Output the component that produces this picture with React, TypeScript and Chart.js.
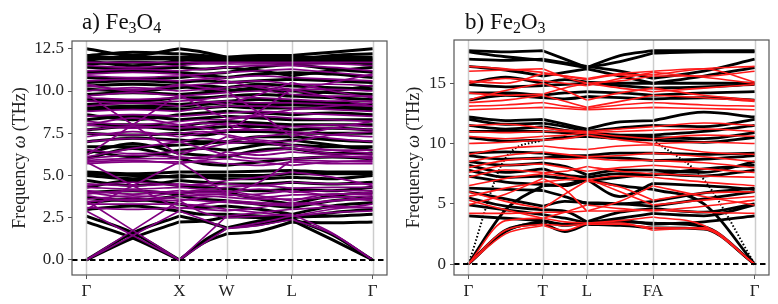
import React, { useEffect, useRef } from 'react';
import { Chart, registerables } from 'chart.js';

Chart.register(...registerables);

// ---------- Panel a) Fe3O4 ----------
const fe3o4SymLabels = ['Γ', 'X', 'W', 'L', 'Γ'];
const fe3o4SymPos = [0, 0.325, 0.49, 0.717, 1];
// k nodes: Γ, mid, X, mid, W, mid, L, mid, Γ
const fe3o4Nodes = [0, 0.1625, 0.325, 0.4075, 0.49, 0.6035, 0.717, 0.8585, 1];
const fe3o4YTicks = [0, 2.5, 5, 7.5, 10, 12.5];
const fe3o4YTickLabels = ['0.0', '2.5', '5.0', '7.5', '10.0', '12.5'];

const fe3o4Black = [
  [0, 1.3, 2.25, 2.3, 2.55, 2.5, 2.35, 1.2, 0],
  [2.25, 1.3, 0, 1.0, 1.55, 1.7, 2.25, 2.2, 2.25],
  [0, 1.6, 2.6, 2.3, 1.9, 2.1, 2.45, 1.5, 0],
  [2.6, 1.6, 0, 1.1, 1.9, 2.3, 2.55, 2.6, 2.7],
  [3.0, 3.2, 2.9, 2.7, 2.7, 2.6, 2.5, 2.8, 3.0],
  [3.4, 3.6, 3.3, 3.1, 3.2, 3.0, 2.7, 3.2, 3.4],
  [3.7, 3.5, 3.8, 3.6, 3.5, 3.3, 3.1, 3.5, 3.7],
  [4.0, 4.1, 3.9, 4.1, 4.0, 3.6, 3.3, 3.8, 4.0],
  [4.3, 4.7, 4.4, 4.3, 4.2, 4.1, 4.2, 4.1, 4.3],
  [4.7, 4.4, 4.7, 4.6, 4.5, 4.5, 4.6, 4.5, 4.6],
  [5.0, 4.8, 5.0, 4.9, 4.8, 4.8, 4.9, 4.8, 5.0],
  [5.1, 5.0, 4.9, 5.0, 5.0, 5.0, 5.1, 5.1, 5.1],
  [5.2, 5.1, 5.2, 5.2, 5.2, 5.25, 5.3, 5.2, 5.2],
  [6.0, 6.6, 6.0, 5.7, 5.6, 5.8, 6.0, 6.1, 6.0],
  [6.3, 6.9, 6.3, 6.2, 6.1, 6.5, 6.6, 6.3, 6.3],
  [6.5, 6.1, 6.5, 6.6, 6.5, 6.8, 7.1, 6.8, 6.5],
  [6.7, 6.7, 6.8, 6.9, 7.0, 6.9, 6.8, 6.7, 6.7],
  [7.0, 7.2, 7.1, 7.0, 7.0, 7.3, 7.3, 7.1, 7.0],
  [7.5, 7.4, 7.5, 7.4, 7.6, 7.6, 7.5, 7.5, 7.5],
  [7.7, 7.9, 7.7, 7.8, 7.9, 7.9, 7.7, 7.8, 7.7],
  [8.0, 8.0, 7.9, 8.1, 8.2, 8.1, 8.0, 8.0, 8.0],
  [8.3, 8.5, 8.3, 8.4, 8.5, 8.4, 8.3, 8.3, 8.3],
  [8.6, 8.3, 8.6, 8.7, 8.8, 8.7, 8.6, 8.7, 8.6],
  [8.9, 9.0, 8.9, 9.0, 9.1, 9.0, 9.0, 9.0, 8.9],
  [9.0, 9.1, 9.1, 9.2, 9.3, 9.2, 9.2, 9.1, 9.0],
  [9.2, 9.3, 9.2, 9.3, 9.4, 9.5, 9.4, 9.3, 9.2],
  [9.5, 9.4, 9.6, 9.6, 9.7, 9.8, 9.7, 9.6, 9.5],
  [9.8, 9.9, 9.8, 9.9, 10.0, 10.1, 10.0, 9.9, 9.8],
  [10.1, 10.0, 10.2, 10.3, 10.2, 10.4, 10.3, 10.2, 10.1],
  [10.3, 10.4, 10.3, 10.1, 10.0, 10.2, 9.7, 10.0, 10.3],
  [10.5, 10.6, 10.5, 10.6, 10.5, 10.6, 10.7, 10.6, 10.5],
  [10.8, 10.7, 10.8, 10.9, 10.8, 11.0, 11.1, 11.0, 10.8],
  [11.1, 11.2, 11.1, 11.0, 11.1, 11.4, 11.6, 11.3, 11.1],
  [11.4, 11.3, 11.4, 11.3, 11.4, 11.2, 10.9, 11.2, 11.4],
  [11.6, 11.7, 11.6, 11.7, 11.7, 11.8, 11.6, 11.7, 11.6],
  [11.8, 11.5, 11.8, 11.9, 11.9, 11.9, 11.9, 11.8, 11.8],
  [11.9, 11.9, 11.9, 11.8, 11.8, 11.7, 11.7, 11.9, 11.9],
  [12.0, 12.0, 12.0, 12.0, 12.0, 12.0, 12.0, 12.0, 12.0],
  [12.1, 12.3, 12.2, 12.1, 12.0, 11.9, 11.8, 12.1, 12.2],
  [12.5, 12.1, 12.5, 12.3, 12.0, 12.1, 12.1, 12.3, 12.5],
];

const fe3o4Purple = [
  [0, 1.45, 2.9, 2.4, 1.85, 2.05, 2.4, 1.55, 0],
  [2.9, 1.45, 0, 0.95, 1.85, 2.2, 2.6, 2.8, 2.9],
  [0, 1.75, 3.5, 2.8, 2.5, 2.6, 2.7, 1.6, 0],
  [3.5, 1.75, 0, 1.3, 2.6, 2.8, 3.0, 3.1, 3.1],
  [5.8, 4.4, 3.0, 3.3, 3.5, 3.4, 3.3, 3.5, 3.6],
  [3.0, 4.4, 5.8, 4.9, 3.9, 4.6, 5.9, 5.85, 5.8],
  [3.1, 3.0, 3.1, 3.0, 2.9, 3.1, 3.4, 3.2, 3.1],
  [3.3, 3.3, 3.3, 3.2, 3.0, 2.8, 2.6, 3.0, 3.3],
  [3.45, 3.6, 3.5, 3.7, 3.8, 3.9, 4.1, 3.8, 3.5],
  [3.6, 3.8, 3.6, 3.5, 3.4, 3.3, 3.2, 3.5, 3.7],
  [3.8, 3.5, 3.8, 3.8, 3.7, 3.6, 3.6, 3.7, 3.8],
  [3.9, 4.1, 3.95, 3.9, 3.9, 3.7, 3.85, 3.9, 4.0],
  [4.0, 3.7, 4.0, 4.1, 4.1, 3.8, 3.5, 3.9, 3.9],
  [4.1, 3.9, 4.1, 4.0, 4.0, 4.2, 4.0, 4.1, 4.1],
  [4.3, 4.2, 4.3, 4.2, 4.3, 4.4, 4.25, 4.3, 4.3],
  [4.4, 4.6, 4.4, 4.5, 4.7, 4.9, 5.2, 4.9, 4.4],
  [4.5, 4.4, 4.5, 4.4, 4.5, 4.4, 4.6, 4.5, 4.5],
  [5.7, 5.8, 5.8, 5.8, 5.7, 5.6, 5.8, 5.7, 5.7],
  [5.8, 5.9, 5.7, 5.9, 6.0, 5.8, 5.6, 5.8, 5.9],
  [5.9, 6.0, 6.0, 6.1, 6.2, 6.0, 6.0, 6.1, 6.1],
  [6.0, 6.2, 6.1, 6.0, 6.4, 6.2, 6.4, 6.2, 6.0],
  [6.1, 6.6, 7.0, 6.6, 6.2, 6.4, 6.6, 6.3, 6.2],
  [6.5, 6.3, 6.4, 6.6, 6.9, 7.0, 6.6, 6.5, 6.5],
  [9.8, 8.0, 6.2, 6.7, 7.3, 7.0, 6.8, 6.5, 6.3],
  [6.2, 8.0, 9.8, 9.0, 8.4, 8.6, 8.9, 9.1, 9.3],
  [7.0, 7.2, 7.0, 7.2, 7.0, 7.3, 7.5, 7.2, 7.0],
  [7.3, 7.6, 7.3, 7.5, 7.7, 7.7, 7.6, 7.4, 7.3],
  [7.5, 7.4, 7.5, 7.6, 7.4, 7.1, 7.0, 7.4, 7.6],
  [7.7, 7.9, 7.8, 7.9, 8.1, 8.0, 7.9, 7.8, 7.7],
  [8.0, 7.8, 8.0, 8.1, 8.0, 7.7, 7.9, 8.0, 7.9],
  [8.0, 8.4, 8.0, 7.8, 7.6, 8.8, 10.1, 9.6, 9.1],
  [10.4, 10.0, 10.4, 10.2, 10.0, 8.7, 7.3, 7.8, 8.2],
  [8.2, 8.0, 8.2, 8.3, 8.3, 8.5, 8.4, 8.3, 8.2],
  [8.5, 8.6, 8.5, 8.6, 8.7, 8.8, 8.7, 8.6, 8.5],
  [8.8, 8.9, 8.8, 9.0, 9.1, 9.1, 9.0, 8.9, 8.8],
  [9.1, 9.3, 9.1, 9.3, 9.4, 9.3, 9.3, 9.2, 9.1],
  [9.4, 9.3, 9.4, 9.5, 9.7, 9.6, 9.5, 9.4, 9.4],
  [9.6, 9.5, 9.6, 9.4, 9.2, 9.8, 10.5, 10.0, 9.6],
  [9.7, 9.9, 9.7, 9.8, 9.9, 10.0, 9.8, 9.7, 9.7],
  [10.0, 10.2, 10.0, 10.1, 10.2, 10.3, 10.1, 10.1, 10.0],
  [10.3, 10.1, 10.3, 10.4, 10.5, 10.6, 10.4, 10.4, 10.3],
  [10.6, 10.7, 10.6, 10.7, 10.8, 10.9, 10.8, 10.7, 10.6],
  [10.9, 10.8, 10.9, 11.0, 11.1, 11.2, 11.3, 11.1, 10.9],
  [11.0, 11.1, 11.0, 10.8, 10.6, 10.2, 10.0, 10.5, 11.0],
  [11.2, 11.3, 11.2, 11.3, 11.4, 11.5, 11.5, 11.4, 11.2],
  [11.5, 11.4, 11.5, 11.6, 11.6, 11.6, 11.6, 11.6, 11.5],
  [11.7, 11.7, 11.7, 11.7, 11.7, 11.7, 11.7, 11.7, 11.7],
];

// ---------- Panel b) Fe2O3 ----------
const fe2o3SymLabels = ['Γ', 'T', 'L', 'FA', 'Γ'];
const fe2o3SymPos = [0, 0.26, 0.414, 0.645, 1];
// k nodes: Γ, mid, T, mid, L, mid, FA, mid, Γ
const fe2o3Nodes = [0, 0.13, 0.26, 0.337, 0.414, 0.53, 0.645, 0.8225, 1];
const fe2o3YTicks = [0, 5, 10, 15];
const fe2o3YTickLabels = ['0', '5', '10', '15'];

const fe2o3Black = [
  [17.7, 17.6, 17.7, 17.0, 16.3, 17.3, 17.7, 17.7, 17.7],
  [17.6, 17.2, 16.9, 16.6, 16.3, 16.8, 17.5, 17.6, 17.6],
  [17.0, 16.9, 17.0, 16.7, 16.4, 16.0, 15.4, 16.0, 17.0],
  [16.4, 16.1, 15.6, 15.9, 16.2, 15.6, 15.0, 15.6, 16.3],
  [15.0, 15.5, 15.0, 15.3, 15.1, 15.0, 15.0, 15.0, 15.0],
  [14.9, 14.7, 14.8, 14.9, 15.0, 14.8, 14.6, 14.7, 14.9],
  [14.2, 14.2, 14.0, 14.2, 14.3, 14.2, 14.0, 14.2, 14.3],
  [13.6, 14.0, 13.8, 13.7, 13.9, 13.8, 13.7, 13.8, 13.6],
  [12.2, 11.9, 12.0, 11.6, 11.2, 11.8, 11.9, 12.6, 12.2],
  [12.0, 11.6, 11.7, 11.4, 11.0, 11.3, 11.5, 11.4, 12.0],
  [11.5, 11.2, 11.4, 11.1, 10.9, 10.7, 10.7, 11.0, 11.5],
  [11.0, 11.0, 11.0, 10.9, 10.7, 10.5, 10.5, 10.4, 10.9],
  [10.5, 10.2, 10.3, 10.5, 10.6, 10.4, 10.3, 10.1, 10.5],
  [9.2, 9.3, 9.2, 9.0, 9.0, 9.2, 9.2, 9.1, 9.2],
  [9.0, 8.7, 8.8, 8.9, 8.9, 8.8, 8.6, 8.7, 9.0],
  [8.5, 8.2, 8.4, 8.1, 7.4, 7.8, 7.8, 7.6, 8.5],
  [8.2, 7.6, 7.9, 7.4, 7.2, 7.5, 7.4, 7.9, 8.2],
  [7.8, 7.2, 7.3, 7.1, 6.9, 7.2, 7.5, 7.3, 7.8],
  [7.3, 6.8, 6.6, 6.5, 7.0, 5.6, 6.7, 6.5, 6.2],
  [6.3, 6.2, 6.1, 5.6, 5.0, 5.0, 5.2, 5.9, 6.3],
  [6.0, 5.4, 4.8, 5.2, 5.1, 5.0, 4.8, 5.4, 6.0],
  [5.5, 4.8, 4.5, 4.4, 3.5, 4.3, 4.6, 4.3, 5.0],
  [4.9, 4.5, 4.1, 3.8, 3.4, 3.8, 4.2, 4.0, 4.9],
  [4.0, 3.8, 3.6, 3.2, 3.5, 3.6, 3.3, 3.5, 4.0],
  [0, 2.7, 3.6, 3.3, 3.4, 3.5, 3.4, 3.1, 0],
  [0, 2.8, 3.4, 2.7, 3.3, 3.2, 3.0, 2.9, 0],
  [0, 4.5, 6.5, 6.6, 7.0, 6.5, 6.2, 5.0, 0],
];

const fe2o3BlackDotted = [
  [0, 8.8, 10.3, 10.5, 10.6, 10.4, 10.3, 7.0, 0],
];

const fe2o3Red = [
  [0, 2.8, 3.3, 3.2, 3.3, 3.3, 3.0, 2.9, 0],
  [0, 2.5, 3.2, 2.8, 3.4, 3.4, 2.8, 3.0, 0],
  [0, 3.6, 3.8, 3.5, 3.4, 3.6, 3.9, 3.2, 0],
  [4.2, 4.2, 4.3, 4.3, 4.4, 4.4, 4.5, 4.3, 4.2],
  [4.9, 5.8, 7.1, 6.2, 4.4, 5.2, 6.5, 5.6, 4.9],
  [5.3, 4.5, 3.8, 4.3, 4.9, 4.6, 4.4, 4.8, 5.3],
  [5.6, 6.3, 6.8, 7.0, 7.1, 6.0, 4.9, 5.3, 5.6],
  [6.0, 5.2, 4.6, 5.8, 6.9, 6.4, 5.3, 5.9, 6.0],
  [6.5, 7.1, 7.5, 7.3, 7.0, 7.3, 7.2, 6.8, 6.5],
  [7.2, 7.8, 7.6, 7.7, 8.1, 7.7, 7.5, 7.3, 7.2],
  [7.6, 8.2, 8.3, 8.0, 7.7, 8.0, 8.2, 7.9, 7.6],
  [8.0, 8.6, 8.8, 8.7, 8.8, 8.6, 8.6, 8.4, 8.0],
  [8.5, 9.0, 9.3, 9.1, 8.9, 9.0, 9.2, 8.9, 8.5],
  [9.1, 9.6, 9.8, 9.6, 9.5, 9.8, 9.9, 9.3, 9.1],
  [10.0, 10.1, 10.3, 10.4, 10.7, 10.3, 10.0, 10.1, 10.0],
  [10.6, 10.4, 10.6, 10.7, 10.9, 10.6, 10.4, 10.7, 10.6],
  [11.0, 10.9, 11.0, 11.0, 10.9, 11.0, 11.1, 11.2, 11.0],
  [11.5, 11.6, 11.3, 11.1, 11.0, 11.2, 11.4, 11.7, 11.5],
  [12.8, 12.9, 13.0, 12.9, 12.8, 12.9, 13.0, 12.9, 12.8],
  [13.1, 13.2, 13.4, 13.1, 12.9, 13.2, 13.4, 13.2, 13.1],
  [13.4, 13.6, 14.0, 13.5, 13.0, 13.5, 14.0, 13.8, 13.5],
  [13.6, 14.4, 15.0, 14.4, 13.6, 14.2, 14.6, 14.0, 13.6],
  [14.2, 14.0, 14.1, 14.6, 15.0, 14.6, 14.3, 14.6, 14.9],
  [15.0, 15.4, 15.2, 15.0, 14.8, 15.4, 15.9, 15.5, 15.0],
  [15.2, 15.0, 15.8, 15.6, 15.4, 15.8, 16.0, 16.2, 15.1],
  [16.0, 16.1, 16.2, 15.5, 15.0, 15.2, 15.6, 15.6, 16.0],
  [16.4, 16.2, 15.9, 15.6, 15.3, 15.7, 15.7, 16.2, 16.4],
];

const SERIF = '"Liberation Serif"';
const SYM_IDX = [2, 4, 6];

function bandPoints(nodes: number[], vals: number[]) {
  const pts: { x: number; y: number | null }[] = [];
  for (let i = 0; i < nodes.length; i++) {
    pts.push({ x: nodes[i], y: vals[i] });
    if (SYM_IDX.includes(i)) {
      pts.push({ x: nodes[i], y: null });
      pts.push({ x: nodes[i], y: vals[i] });
    }
  }
  return pts;
}

type PanelCfg = {
  width: number;
  padLeftAxis: number;
  padRight: number;
  padTop: number;
  yMin: number;
  yMax: number;
  yTicks: number[];
  yTickLabels: string[];
  symPos: number[];
  symLabels: string[];
  nodes: number[];
  bandSets: { bands: number[][]; color: string; width: number; order: number; dash?: number[] }[];
  titlePrefix: string;
  titleParts: [string, string][];
  titleX: number;
  ylabelX: number;
};

function Panel({ cfg }: { cfg: PanelCfg }) {
  const ref = useRef<HTMLCanvasElement | null>(null);
  useEffect(() => {
    if (!ref.current) return;
    const datasets: any[] = [];
    cfg.bandSets.forEach((set) => {
      set.bands.forEach((b) => {
        datasets.push({
          data: bandPoints(cfg.nodes, b),
          borderColor: set.color,
          borderWidth: set.width,
          borderDash: set.dash || [],
          pointRadius: 0,
          fill: false,
          cubicInterpolationMode: 'monotone',
          order: set.order,
          spanGaps: false,
        });
      });
    });

    const overlay = {
      id: 'overlay',
      afterDatasetsDraw(chart: any) {
        const { ctx, chartArea } = chart;
        const xs = chart.scales.x;
        const ys = chart.scales.y;
        ctx.save();
        ctx.strokeStyle = 'rgba(200,200,200,0.9)';
        ctx.lineWidth = 1.5;
        cfg.symPos.forEach((p) => {
          const px = Math.round(xs.getPixelForValue(p)) + 0.5;
          ctx.beginPath();
          ctx.moveTo(px, chartArea.top);
          ctx.lineTo(px, chartArea.bottom);
          ctx.stroke();
        });
        const y0 = ys.getPixelForValue(0);
        ctx.strokeStyle = '#000';
        ctx.lineWidth = 2;
        ctx.setLineDash([5.5, 3.5]);
        ctx.beginPath();
        ctx.moveTo(chartArea.left, y0);
        ctx.lineTo(chartArea.right, y0);
        ctx.stroke();
        ctx.restore();
      },
      afterDraw(chart: any) {
        const { ctx, chartArea } = chart;
        ctx.save();
        ctx.strokeStyle = '#555';
        ctx.lineWidth = 1.2;
        ctx.strokeRect(chartArea.left, chartArea.top, chartArea.right - chartArea.left, chartArea.bottom - chartArea.top);
        // title
        ctx.fillStyle = '#111';
        ctx.textBaseline = 'alphabetic';
        ctx.textAlign = 'left';
        let x = cfg.titleX;
        const base = 29;
        ctx.font = `23px ${SERIF}`;
        ctx.fillText(cfg.titlePrefix, x, base);
        x += ctx.measureText(cfg.titlePrefix).width;
        cfg.titleParts.forEach(([el, sub]) => {
          ctx.font = `23px ${SERIF}`;
          ctx.fillText(el, x, base);
          x += ctx.measureText(el).width;
          ctx.font = `16px ${SERIF}`;
          ctx.fillText(sub, x, base + 4);
          x += ctx.measureText(sub).width;
        });
        // y label
        const cy = (chartArea.top + chartArea.bottom) / 2;
        ctx.translate(cfg.ylabelX, cy);
        ctx.rotate(-Math.PI / 2);
        const parts: [string, string][] = [
          ['Frequency ', 'normal'],
          ['ω', 'italic'],
          [' (THz)', 'normal'],
        ];
        let total = 0;
        parts.forEach(([t, st]) => {
          ctx.font = `${st} 18px ${SERIF}`;
          total += ctx.measureText(t).width;
        });
        let tx = -total / 2;
        ctx.fillStyle = '#222';
        parts.forEach(([t, st]) => {
          ctx.font = `${st} 18px ${SERIF}`;
          ctx.fillText(t, tx, 0);
          tx += ctx.measureText(t).width;
        });
        ctx.restore();
      },
    };

    const chart = new Chart(ref.current, {
      type: 'line',
      data: { datasets },
      options: {
        animation: false,
        responsive: false,
        maintainAspectRatio: false,
        devicePixelRatio: 1,
        events: [],
        layout: { padding: { left: 0, right: cfg.padRight, top: cfg.padTop, bottom: 0 } },
        plugins: { legend: { display: false }, title: { display: false }, tooltip: { enabled: false } },
        scales: {
          x: {
            type: 'linear',
            min: -0.05,
            max: 1.05,
            afterBuildTicks: (axis: any) => {
              axis.ticks = cfg.symPos.map((v) => ({ value: v }));
            },
            afterFit: (axis: any) => {
              axis.height = 29;
            },
            ticks: {
              autoSkip: false,
              maxRotation: 0,
              padding: 2,
              color: '#222',
              font: { family: SERIF, size: 17 },
              callback: (_v: any, i: number) => cfg.symLabels[i],
            },
            grid: { display: true, drawOnChartArea: false, drawTicks: true, tickLength: 4, color: '#555', lineWidth: 1 },
            border: { display: false },
          },
          y: {
            type: 'linear',
            min: cfg.yMin,
            max: cfg.yMax,
            afterBuildTicks: (axis: any) => {
              axis.ticks = cfg.yTicks.map((v) => ({ value: v }));
            },
            afterFit: (axis: any) => {
              axis.width = cfg.padLeftAxis;
            },
            ticks: {
              autoSkip: false,
              padding: 4,
              color: '#222',
              font: { family: SERIF, size: 17 },
              callback: (_v: any, i: number) => cfg.yTickLabels[i],
            },
            grid: { display: true, drawOnChartArea: false, drawTicks: true, tickLength: 4, color: '#555', lineWidth: 1 },
            border: { display: false },
          },
        },
      },
      plugins: [overlay],
    } as any);
    return () => chart.destroy();
  }, [cfg]);
  return <canvas ref={ref} width={cfg.width} height={304} style={{ display: 'block', width: cfg.width, height: 304 }} />;
}

const leftCfg: PanelCfg = {
  width: 389,
  padLeftAxis: 72,
  padRight: 2,
  padTop: 41,
  yMin: -0.89,
  yMax: 12.96,
  yTicks: fe3o4YTicks,
  yTickLabels: fe3o4YTickLabels,
  symPos: fe3o4SymPos,
  symLabels: fe3o4SymLabels,
  nodes: fe3o4Nodes,
  bandSets: [
    { bands: fe3o4Black, color: '#000000', width: 3, order: 2 },
    { bands: fe3o4Purple, color: '#800080', width: 1.7, order: 1 },
  ],
  titlePrefix: 'a) ',
  titleParts: [['Fe', '3'], ['O', '4']],
  titleX: 82,
  ylabelX: 24.5,
};

const rightCfg: PanelCfg = {
  width: 389,
  padLeftAxis: 65,
  padRight: 9,
  padTop: 40,
  yMin: -0.91,
  yMax: 18.59,
  yTicks: fe2o3YTicks,
  yTickLabels: fe2o3YTickLabels,
  symPos: fe2o3SymPos,
  symLabels: fe2o3SymLabels,
  nodes: fe2o3Nodes,
  bandSets: [
    { bands: fe2o3Black, color: '#000000', width: 2.8, order: 3 },
    { bands: fe2o3BlackDotted, color: '#000000', width: 2, order: 2, dash: [1.5, 2] },
    { bands: fe2o3Red, color: '#ff1a1a', width: 1.6, order: 1 },
  ],
  titlePrefix: 'b) ',
  titleParts: [['Fe', '2'], ['O', '3']],
  titleX: 76,
  ylabelX: 30,
};

export default function App() {
  return (
    <div style={{ position: 'fixed', left: 0, top: 0, width: 778, height: 304, background: '#fff', display: 'flex' }}>
      <Panel cfg={leftCfg} />
      <Panel cfg={rightCfg} />
    </div>
  );
}
